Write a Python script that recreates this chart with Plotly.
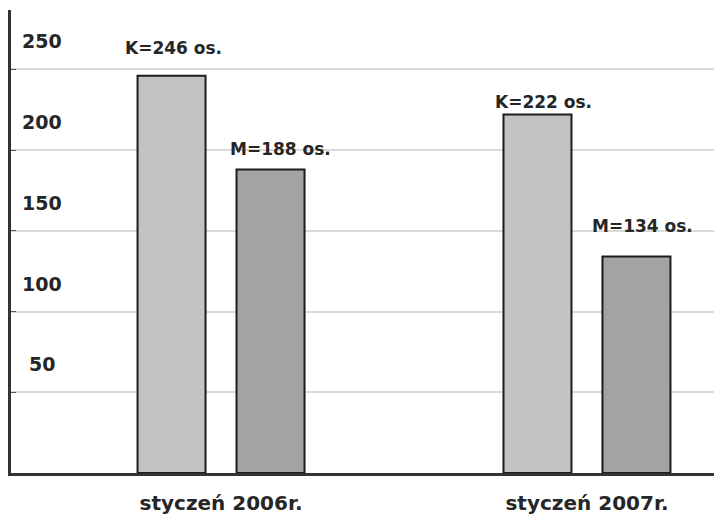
import plotly.graph_objects as go

categories = ["styczeń 2006r.", "styczeń 2007r."]
k_values = [246, 222]
m_values = [188, 134]
k_labels = ["K=246 os.", "K=222 os."]
m_labels = ["M=188 os.", "M=134 os."]
y_ticks = [50, 100, 150, 200, 250]
y_tick_text = ["50", "100", "150", "200", "250"]

# label offsets (pixels) as seen in the reference
k_label_dy = [28, 12]
m_label_dy = [20, 31]
k_label_dx = [2, 6]
m_label_dx = [10, 6]

FONT = "DejaVu Sans"
TXT = "#262626"
BARGAP = 0.459
BARGROUPGAP = 0.313

fig = go.Figure()
fig.add_trace(go.Bar(
    x=categories, y=k_values, name="K",
    marker=dict(color="#c2c2c2", line=dict(color="#1c1c1c", width=2)),
))
fig.add_trace(go.Bar(
    x=categories, y=m_values, name="M",
    marker=dict(color="#a3a3a3", line=dict(color="#1c1c1c", width=2)),
))

slot = (1 - BARGAP) / 2
annotations = []
for i in range(len(categories)):
    annotations.append(dict(
        x=i - slot / 2, y=k_values[i], xref="x", yref="y", text="<b>%s</b>" % k_labels[i],
        showarrow=False, xanchor="center", yanchor="middle",
        yshift=k_label_dy[i], xshift=k_label_dx[i],
        font=dict(family=FONT, size=17, color=TXT),
    ))
    annotations.append(dict(
        x=i + slot / 2, y=m_values[i], xref="x", yref="y", text="<b>%s</b>" % m_labels[i],
        showarrow=False, xanchor="center", yanchor="middle",
        yshift=m_label_dy[i], xshift=m_label_dx[i],
        font=dict(family=FONT, size=17, color=TXT),
    ))
for v, t in zip(y_ticks, y_tick_text):
    annotations.append(dict(
        x=0.044, xref="paper", y=v, yref="y", text="<b>%s</b>" % t,
        showarrow=False, xanchor="center", yanchor="middle", yshift=28,
        font=dict(family=FONT, size=19, color=TXT),
    ))

# the page body has an 8px default margin, so the figure is sized to fit the window
fig.update_layout(
    width=714, height=507,
    margin=dict(l=3, r=0, t=2, b=42),
    paper_bgcolor="white", plot_bgcolor="white",
    barmode="group", bargap=BARGAP, bargroupgap=BARGROUPGAP,
    showlegend=False,
    annotations=annotations,
    xaxis=dict(
        type="category", range=[-0.574, 1.369],
        showline=True, linecolor="#333333", linewidth=3,
        showgrid=False, ticks="", zeroline=False,
        tickfont=dict(family=FONT, size=20, color=TXT),
        ticklabelstandoff=10,
    ),
    yaxis=dict(
        range=[0, 286.7], tickvals=y_ticks, showticklabels=False,
        showline=True, linecolor="#333333", linewidth=3,
        showgrid=True, gridcolor="#d9d9d9", gridwidth=1.5,
        ticks="inside", ticklen=5, tickcolor="#555555", tickwidth=1,
        zeroline=False,
    ),
)
fig.update_xaxes(ticktext=["<b>%s</b>" % c for c in categories], tickvals=categories)

fig.write_html("out.html")
